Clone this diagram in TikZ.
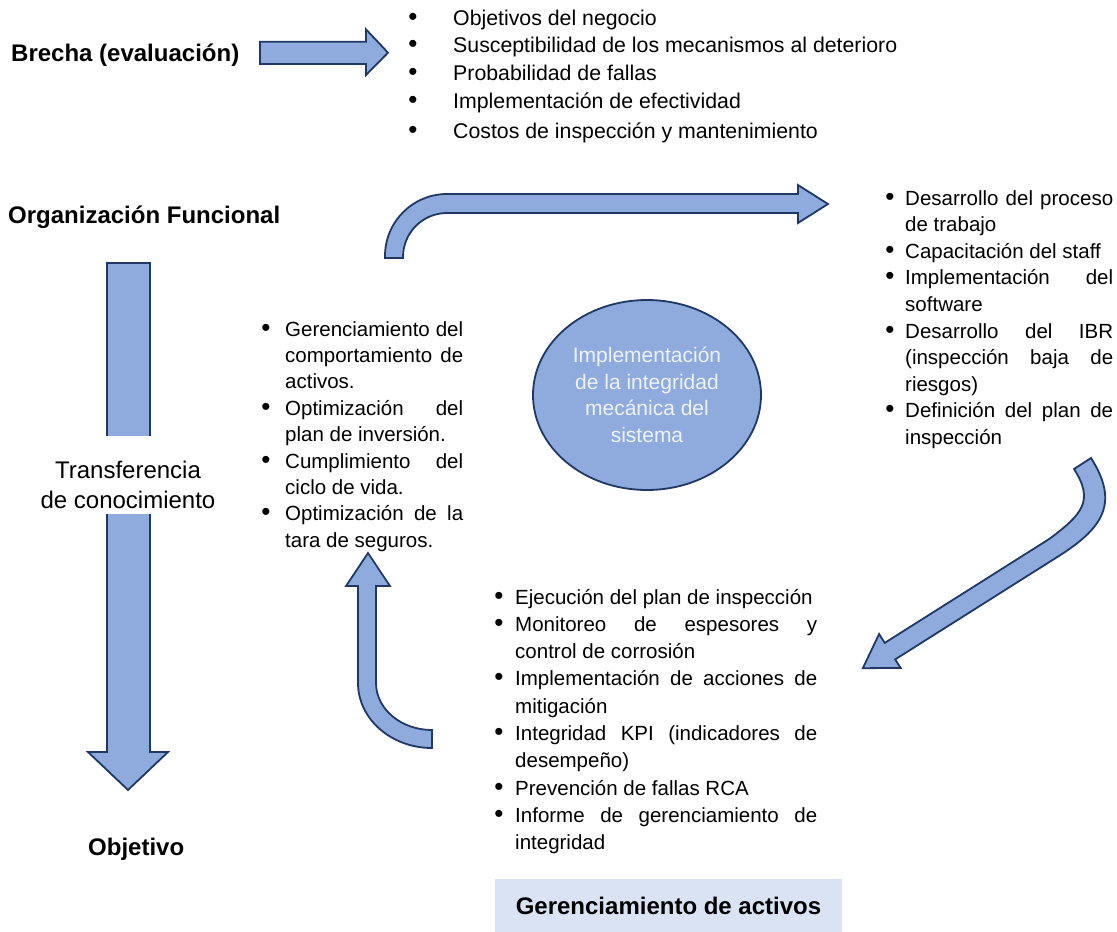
\documentclass[tikz,border=0pt]{standalone}
\usepackage{fontspec}
\setmainfont{Liberation Sans}
\usetikzlibrary{shapes.geometric}
\definecolor{arrowfill}{HTML}{8FAADC}
\definecolor{arrowline}{HTML}{203864}
\definecolor{boxfill}{HTML}{DAE3F3}
\definecolor{elltext}{HTML}{EEF2FA}
\newcommand{\nohyph}{\tolerance=9999\relax\hyphenpenalty=10000\relax\exhyphenpenalty=10000\relax}
\begin{document}
\begin{tikzpicture}[x=1pt,y=-1pt,
  blockarrow/.style={fill=arrowfill,draw=arrowline,line width=1.8pt,line join=miter},
  title/.style={font=\fontsize{24}{28}\selectfont\bfseries,inner sep=0pt,anchor=base west},
  leftbody/.style={font=\fontsize{20.5}{26.4}\selectfont\nohyph,inner sep=0pt,anchor=base west,align=justify,text width=178pt},
  rightbody/.style={font=\fontsize{20.5}{26.6}\selectfont\nohyph,inner sep=0pt,anchor=base west,align=justify,text width=208pt},
  bottombody/.style={font=\fontsize{20.5}{27.3}\selectfont\nohyph,inner sep=0pt,anchor=base west,align=justify,text width=302pt},
  toptext/.style={font=\fontsize{21.3}{28}\selectfont,inner sep=0pt,anchor=base west},
  dot/.style={font=\fontsize{26}{30}\selectfont,inner sep=0pt,anchor=center},
  transfer/.style={font=\fontsize{24}{30}\selectfont,inner sep=0pt,anchor=base}
]
\useasboundingbox (0,0) rectangle (1117,932);

% ---- top: Brecha ----
\node[title] (brecha) at (11,61) {Brecha (evaluación)};
\draw[blockarrow] (260,41.7) -- (366,41.7) -- (366,29.3) -- (388,52.7) -- (366,75) -- (366,64) -- (260,64) -- cycle;

\node[dot] (td1) at (413,19) {\textbullet};
\node[dot] (td2) at (413,46) {\textbullet};
\node[dot] (td3) at (413,74) {\textbullet};
\node[dot] (td4) at (413,102) {\textbullet};
\node[dot] (td5) at (413,132) {\textbullet};
\node[toptext] (t1) at (453,25) {Objetivos del negocio};
\node[toptext] (t2) at (453,52) {Susceptibilidad de los mecanismos al deterioro};
\node[toptext] (t3) at (453,80) {Probabilidad de fallas};
\node[toptext] (t4) at (453,108) {Implementación de efectividad};
\node[toptext] (t5) at (453,138) {Costos de inspección y mantenimiento};

% ---- left column ----
\node[title] (orgfun) at (8,223) {Organización Funcional};
\draw[blockarrow] (107,263) -- (150,263) -- (150,752) -- (168,752) -- (128,790) -- (88,752) -- (107,752) -- cycle;
\fill[white] (98,436) rectangle (160,514);
\node[transfer] (transA) at (128,478) {Transferencia};
\node[transfer] (transB) at (128,508) {de conocimiento};
\node[title] (objetivo) at (88,855) {Objetivo};

% ---- top curved arrow ----
\draw[blockarrow] (385,258) -- (385,256) arc[start angle=180,end angle=270,radius=62]
  -- (798,194) -- (798,185) -- (828,204) -- (798,223) -- (798,213) -- (447,213)
  arc[start angle=270,end angle=180,radius=44] -- (403,258) -- cycle;

% ---- right curved arrow ----
\draw[blockarrow] (1091,458) .. controls (1119,502) and (1104,527) .. (1060.3,555.1)
  -- (895.2,659.4) -- (900.6,667.9) -- (862.8,668.2) -- (879.1,634.0) -- (884.7,642.9)
  -- (1049.8,538.6) .. controls (1082,514.3) and (1094.5,501) .. (1074,469) -- cycle;

% ---- bottom-left curved arrow ----
\draw[blockarrow] (368,553) -- (390,586) -- (376,586) -- (376,683)
  arc[start angle=180,end angle=90,x radius=56,y radius=47] -- (432,748)
  arc[start angle=90,end angle=180,x radius=74,y radius=65] -- (358,586) -- (346,586) -- cycle;

% ---- ellipse ----
\node[ellipse,fill=arrowfill,draw=arrowline,line width=1.8pt,minimum width=228pt,minimum height=190pt,
  text=elltext,align=center,font=\fontsize{21}{26.7}\selectfont] (impl) at (647,395)
  {Implementación\\de la integridad\\mecánica del\\sistema};

% ---- left list ----
\node[dot] (ld1) at (266,330) {\textbullet};
\node[dot] (ld2) at (266,409.2) {\textbullet};
\node[dot] (ld3) at (266,462) {\textbullet};
\node[dot] (ld4) at (266,514.8) {\textbullet};
\node[leftbody] (l1) at (285,336) {Gerenciamiento del\linebreak comportamiento de\linebreak activos.};
\node[leftbody] (l2) at (285,415.2) {Optimización del\linebreak plan de inversión.};
\node[leftbody] (l3) at (285,468) {Cumplimiento del\linebreak ciclo de vida.};
\node[leftbody] (l4) at (285,520.8) {Optimización de la\linebreak tara de seguros.};

% ---- right list ----
\node[dot] (rd1) at (890,199) {\textbullet};
\node[dot] (rd2) at (890,252.2) {\textbullet};
\node[dot] (rd3) at (890,278.8) {\textbullet};
\node[dot] (rd4) at (890,332) {\textbullet};
\node[dot] (rd5) at (890,411.8) {\textbullet};
\node[rightbody] (r1) at (905,205) {Desarrollo del proceso\linebreak de trabajo};
\node[rightbody] (r2) at (905,258.2) {Capacitación del staff};
\node[rightbody] (r3) at (905,284.8) {Implementación del\linebreak software};
\node[rightbody] (r4) at (905,338) {Desarrollo del IBR\linebreak (inspección baja de\linebreak riesgos)};
\node[rightbody] (r5) at (905,417.8) {Definición del plan de\linebreak inspección};

% ---- bottom list ----
\node[dot] (bd1) at (499,598) {\textbullet};
\node[dot] (bd2) at (499,625.3) {\textbullet};
\node[dot] (bd3) at (499,679.9) {\textbullet};
\node[dot] (bd4) at (499,734.5) {\textbullet};
\node[dot] (bd5) at (499,789.1) {\textbullet};
\node[dot] (bd6) at (499,816.4) {\textbullet};
\node[bottombody] (b1) at (515,604) {Ejecución del plan de inspección};
\node[bottombody] (b2) at (515,631.3) {Monitoreo de espesores y\linebreak control de corrosión};
\node[bottombody] (b3) at (515,685.9) {Implementación de acciones de\linebreak mitigación};
\node[bottombody] (b4) at (515,740.5) {Integridad KPI (indicadores de\linebreak desempeño)};
\node[bottombody] (b5) at (515,795.1) {Prevención de fallas RCA};
\node[bottombody] (b6) at (515,822.4) {Informe de gerenciamiento de\linebreak integridad};

% ---- bottom box ----
\node[fill=boxfill,minimum width=347pt,minimum height=53pt,inner sep=0pt,
  font=\fontsize{24}{28}\selectfont\bfseries] (gerencia) at (668.5,905.5) {Gerenciamiento de activos};
\end{tikzpicture}
\end{document}
